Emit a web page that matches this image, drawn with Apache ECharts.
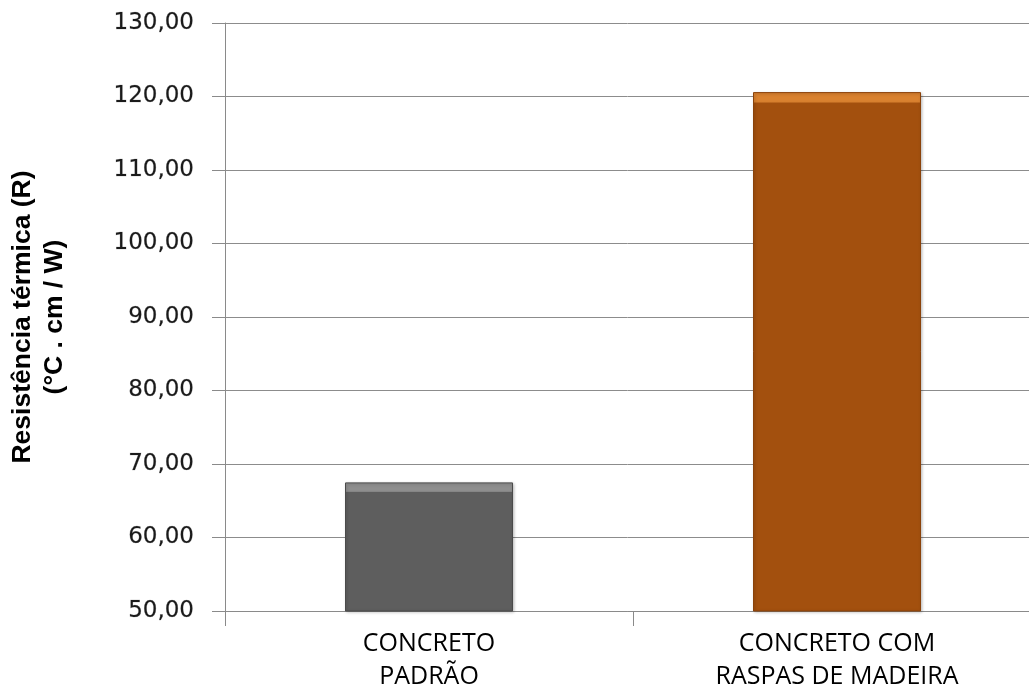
<!DOCTYPE html>
<html>
<head>
<meta charset="utf-8">
<script src="https://cdn.jsdelivr.net/npm/echarts@6/dist/echarts.min.js"></script>
<style>
html,body{margin:0;padding:0;background:#fff;}
#chart{width:1029px;height:692px;}
</style>
</head>
<body>
<div id="chart"></div>
<script>
const categories = ['CONCRETO\nPADRÃO', 'CONCRETO COM\nRASPAS DE MADEIRA'];
const values = [67.5, 120.6];
const yMin = 50, yMax = 130, yStep = 10;
const yTitle = 'Resistência térmica (R)\n(°C . cm / W)';

const barStyles = [
  {base: '#5e5e5e', top: '#8e8e8e', edge: '#4a4a4a', band: 0.07},
  {base: '#a3500e', top: '#d9812f', edge: '#8a420a', band: 0.018}
];

const chart = echarts.init(document.getElementById('chart'), null, {renderer: 'canvas'});
chart.setOption({
  backgroundColor: '#ffffff',
  animation: false,
  grid: {left: 225, right: -12, top: 23, bottom: 81, containLabel: false, outerBoundsMode: 'none'},
  xAxis: {
    type: 'category',
    data: categories,
    axisLine: {show: true, lineStyle: {color: '#8a8a8a', width: 1}},
    axisTick: {show: true, length: 15, alignWithLabel: false, lineStyle: {color: '#8a8a8a'}},
    axisLabel: {
      fontFamily: '"Liberation Sans Narrow", "Open Sans", sans-serif',
      fontSize: 25, lineHeight: 33, color: '#000', margin: 16, interval: 0
    }
  },
  yAxis: {
    type: 'value',
    min: yMin, max: yMax, interval: yStep,
    name: yTitle,
    nameLocation: 'middle',
    nameRotate: 90,
    nameGap: 154,
    nameTextStyle: {fontFamily: '"Liberation Sans", Arial, sans-serif', fontWeight: 'bold', fontSize: 26.5, lineHeight: 32, color: '#000'},
    axisLine: {show: true, lineStyle: {color: '#8a8a8a', width: 1}},
    axisTick: {show: true, inside: false, length: 13, lineStyle: {color: '#8a8a8a'}},
    axisLabel: {
      fontFamily: '"DejaVu Sans", Verdana, sans-serif',
      fontSize: 23, color: '#1a1a1a', margin: 31,
      textBorderColor: 'rgba(40,40,40,0.35)', textBorderWidth: 0.6,
      formatter: v => v.toFixed(2).replace('.', ',')
    },
    splitLine: {show: true, lineStyle: {color: '#8c8c8c', width: 1}}
  },
  series: [{
    type: 'bar',
    barWidth: 168,
    data: values.map((v, i) => {
      const s = barStyles[i];
      return {
        value: v,
        itemStyle: {
          color: new echarts.graphic.LinearGradient(0, 0, 0, 1, [
            {offset: 0, color: s.top},
            {offset: s.band, color: s.top},
            {offset: s.band + 0.004, color: s.base},
            {offset: 1, color: s.base}
          ]),
          borderColor: s.edge,
          borderWidth: 1,
          shadowColor: 'rgba(0,0,0,0.25)',
          shadowBlur: 3,
          shadowOffsetX: 1,
          shadowOffsetY: 1
        }
      };
    })
  }]
});
</script>
</body>
</html>
